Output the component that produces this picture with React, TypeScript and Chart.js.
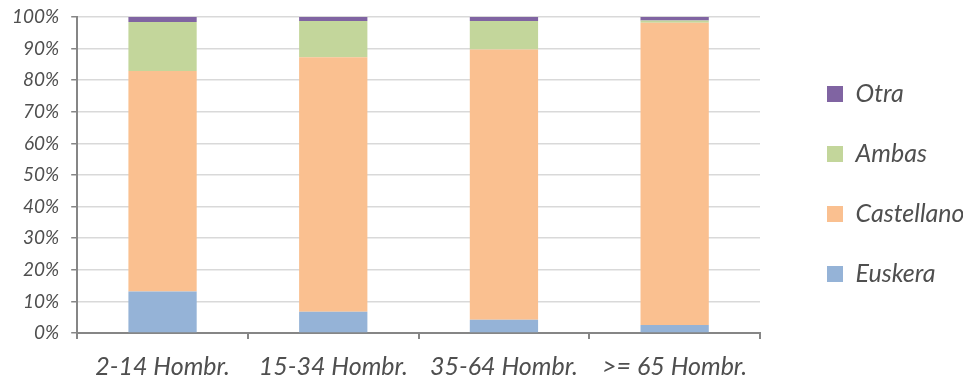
import React, { useEffect, useRef } from "react";
import { Chart, registerables } from "chart.js";

Chart.register(...registerables);

const categories = ["2-14 Hombr.", "15-34 Hombr.", "35-64 Hombr.", ">= 65 Hombr."];
const euskera = [13.1, 6.7, 4.2, 2.5];
const castellano = [69.8, 80.6, 85.5, 95.7];
const ambas = [15.5, 11.4, 9.0, 0.7];
const otra = [1.6, 1.3, 1.3, 1.1];
const yTicks = [0, 10, 20, 30, 40, 50, 60, 70, 80, 90, 100];

const FONT = "Lato, 'DejaVu Sans', sans-serif";
const TEXT = "#4F4F4F";

export default function App() {
  const ref = useRef<HTMLCanvasElement | null>(null);

  useEffect(() => {
    document.body.style.margin = "0";
    const ctx = ref.current!;
    const chart = new Chart(ctx, {
      type: "bar",
      data: {
        labels: categories,
        datasets: [
          { label: "Euskera", data: euskera, backgroundColor: "#95B3D7" },
          { label: "Castellano", data: castellano, backgroundColor: "#FAC090" },
          { label: "Ambas", data: ambas, backgroundColor: "#C3D69B" },
          { label: "Otra", data: otra, backgroundColor: "#8064A2" },
        ],
      },
      options: {
        responsive: false,
        animation: false,
        devicePixelRatio: 1,
        layout: { padding: { top: 17, right: 0, bottom: 1, left: 0 } },
        datasets: {
          bar: { categoryPercentage: 1, barPercentage: 0.4, borderWidth: 0 },
        },
        plugins: {
          tooltip: { enabled: false },
          legend: {
            position: "right",
            fullSize: false,
            maxWidth: 171,
            reverse: true,
            title: {
              display: true,
              text: " ",
              padding: 3,
              font: { size: 10 },
            },
            labels: {
              boxWidth: 16,
              boxHeight: 16,
              padding: 35,
              color: TEXT,
              font: { family: FONT, size: 25, style: "italic" },
            },
          },
        },
        scales: {
          x: {
            stacked: true,
            grid: {
              offset: true,
              drawOnChartArea: false,
              drawTicks: true,
              tickLength: 6,
              color: "#868686",
              lineWidth: 2,
            },
            border: { display: true, color: "#868686", width: 2 },
            ticks: {
              color: TEXT,
              padding: 13,
              font: { family: FONT, size: 25, style: "italic" },
            },
            afterFit: (axis: any) => {
              axis.height = 46;
            },
          },
          y: {
            stacked: true,
            min: 0,
            max: 100,
            afterBuildTicks: (axis: any) => {
              axis.ticks = yTicks.map((v) => ({ value: v }));
            },
            afterFit: (axis: any) => {
              axis.paddingTop = 0;
              axis.paddingBottom = 0;
            },
            grid: {
              color: "#D9D9D9",
              lineWidth: 1.5,
              drawTicks: true,
              tickLength: 6,
              tickColor: "#868686",
            },
            border: { display: true, color: "#868686", width: 2 },
            ticks: {
              color: TEXT,
              padding: 12,
              font: { family: FONT, size: 19, style: "italic" },
              callback: (v: any) => v + "%",
            },
          },
          y2: {
            position: "right",
            display: true,
            grid: { display: false, drawTicks: false },
            border: { display: false },
            ticks: { display: false },
            afterFit: (axis: any) => {
              axis.width = 32;
              axis.paddingTop = 0;
              axis.paddingBottom = 0;
            },
          },
        },
      } as any,
    });
    return () => chart.destroy();
  }, []);

  return <canvas ref={ref} width={963} height={380} style={{ display: "block" }} />;
}
